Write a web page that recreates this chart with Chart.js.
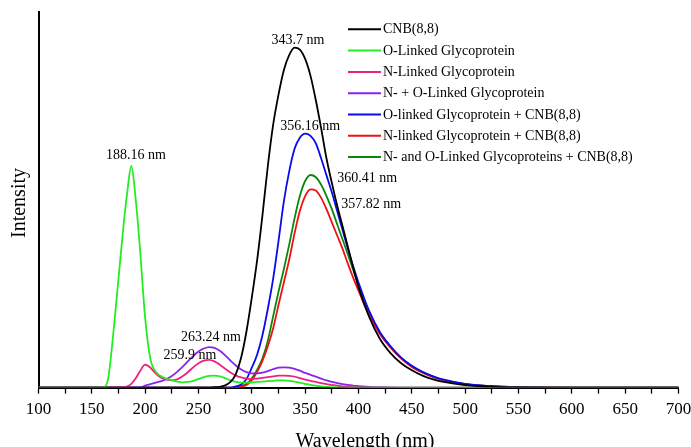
<!DOCTYPE html>
<html>
<head>
<meta charset="utf-8">
<script src="https://cdn.jsdelivr.net/npm/chart.js@4"></script>
<style>
  html,body{margin:0;padding:0;background:#fff;}
  #wrap{width:691px;height:447px;}
</style>
</head>
<body>
<div id="wrap"><canvas id="chart" width="691" height="447"></canvas></div>
<script>
// wavelength grid (nm), shared by all spectra
const wavelengths = [100,150,160,165,170,175,180,183,187,191,195,
  200,205,210,215,220,225,230,235,240,245,250,255,260,265,270,275,280,285,290,295,
  300,305,310,315,320,325,330,335,340,345,350,355,360,365,370,375,380,385,390,395,400,
  410,420,430,440,450,460,470,480,500,520,550,600,700];

// intensity values (arbitrary units, 0..100)
const cnb = [0,0,0,0,0,0,0,0,0,0,0,
  0,0,0,0,0,0,0,0,0,0,0,0,0,0.1,0.2,0.6,1.5,3.6,8,15,
  24,34,46,59,70,78,84.5,88.5,90.5,90,87.5,83,76.5,69,61,54.5,48.5,43,37.5,32,26.8,
  18.8,13,9.2,6.5,4.6,3.2,2.2,1.5,0.65,0.28,0.06,0,0];
const oLinked = [0,0,0,2,14,29,44,51.5,59,50.5,37.5,
  18.5,7.5,4.2,3.0,2.4,2.0,1.6,1.4,1.5,1.8,2.3,2.8,3.1,3.2,3.0,2.5,1.9,1.5,1.3,1.3,
  1.4,1.5,1.6,1.7,1.8,1.9,1.9,1.8,1.6,1.3,1.0,0.7,0.5,0.3,0.2,0.1,0.05,0,0,0,0,
  0,0,0,0,0,0,0,0,0,0,0,0,0];
const nLinked = [0,0,0,0,0,0,0,0.3,1.0,2.4,4.3,
  6.1,5.3,3.7,2.6,2.1,1.9,2.2,3.0,4.1,5.4,6.5,7.2,7.4,7.0,6.1,5.0,4.0,3.2,2.7,2.4,
  2.3,2.4,2.6,2.8,3.0,3.2,3.2,3.1,2.9,2.5,2.1,1.8,1.5,1.2,0.9,0.7,0.5,0.3,0.2,0.1,0.05,
  0,0,0,0,0,0,0,0,0,0,0,0,0];
const noLinked = [0,0,0,0,0,0,0,0,0,0,0,
  0.5,0.9,1.3,1.7,2.3,3.1,4.2,5.5,7.0,8.4,9.6,10.4,10.8,10.6,9.8,8.6,7.2,5.9,4.8,4.1,
  3.8,3.8,4.0,4.4,4.9,5.3,5.4,5.3,5.0,4.5,3.9,3.4,2.9,2.4,1.9,1.5,1.2,0.9,0.7,0.5,0.4,
  0.2,0.1,0.03,0,0,0,0,0,0,0,0,0,0];
const oCnb = [0,0,0,0,0,0,0,0,0,0,0,
  0,0,0,0,0,0,0,0,0,0,0,0,0,0,0,0,0,0.3,0.8,2.3,
  5.3,8.8,14,21,29,39,49.5,57.5,63.5,66.5,67.6,67,65,61,56.5,52,47,42,37,32.3,28,
  20.4,14.8,11,8,5.8,4.2,3,2.1,1.0,0.45,0.12,0,0];
const nCnb = [0,0,0,0,0,0,0,0,0,0,0,
  0,0,0,0,0,0,0,0,0,0,0,0,0,0,0,0,0,0,0.2,0.7,
  2.0,4.2,7.2,11,15.8,22,28,34,41,47,51,52.8,52.5,50.5,47.5,44,40.5,37,33,29.3,25.8,
  19.2,14.3,10.6,7.7,5.5,4.0,2.8,1.95,0.9,0.42,0.1,0,0];
const noCnb = [0,0,0,0,0,0,0,0,0,0,0,
  0,0,0,0,0,0,0,0,0,0,0,0,0,0,0,0,0,0,0.4,1.0,
  2.5,4.8,7.8,12.5,19,25.5,31.5,38,45,51,55,56.6,56,54,51,47.5,43.5,39.5,35.5,31.3,27.3,
  20,14.7,10.9,7.9,5.7,4.1,2.9,2.0,0.95,0.45,0.12,0,0];

const seriesNames = ["CNB(8,8)","O-Linked Glycoprotein","N-Linked Glycoprotein",
  "N- + O-Linked Glycoprotein","O-linked Glycoprotein + CNB(8,8)",
  "N-linked Glycoprotein + CNB(8,8)","N- and O-Linked Glycoproteins + CNB(8,8)"];
const seriesValues = [cnb,oLinked,nLinked,noLinked,oCnb,nCnb,noCnb];
const seriesColors = ["#000000","#22ee22","#f0207f","#8a22f0","#0a0aee","#ee1111","#0b870b"];

// peak labels [text, wavelength, intensity]
const peakLabels = [
  ["343.7 nm",343.3,92.5],
  ["356.16 nm",354.6,69.6],
  ["188.16 nm",191.4,61.8],
  ["360.41 nm",408.2,55.6],
  ["357.82 nm",412,48.8],
  ["263.24 nm",261.7,13.4],
  ["259.9 nm",242,8.5]
];

const serif = "'Liberation Serif','Times New Roman',serif";

const datasets = seriesNames.map((name,i)=>({
  label:name,
  data:wavelengths.map((w,j)=>({x:w,y:seriesValues[i][j]})),
  borderColor:seriesColors[i],
  borderWidth:1.8,
  pointRadius:0,
  fill:false,
  cubicInterpolationMode:"monotone"
}));

// legend, peak labels and axis titles
const extras = {
  id:"extras",
  afterDraw(chart){
    const ctx = chart.ctx, xs = chart.scales.x, ys = chart.scales.y;
    ctx.save();
    ctx.fillStyle = "#000";
    ctx.font = "14px " + serif;
    ctx.textAlign = "center";
    ctx.textBaseline = "middle";
    peakLabels.forEach(([t,x,y])=>{
      ctx.fillText(t, xs.getPixelForValue(x), ys.getPixelForValue(y));
    });
    // legend
    ctx.textAlign = "left";
    seriesNames.forEach((name,i)=>{
      const y = 29.3 + i*21.3;
      ctx.strokeStyle = seriesColors[i];
      ctx.lineWidth = 2;
      ctx.beginPath(); ctx.moveTo(348,y); ctx.lineTo(381,y); ctx.stroke();
      ctx.fillStyle = "#000";
      ctx.fillText(name, 383, y+0.5);
    });
    // axis titles
    ctx.font = "20px " + serif;
    ctx.textAlign = "center";
    ctx.fillText("Wavelength (nm)", 365, 442);
    ctx.translate(19.5, 203);
    ctx.rotate(-Math.PI/2);
    ctx.fillText("Intensity", 0, 0);
    ctx.restore();
  }
};

new Chart(document.getElementById("chart"),{
  type:"line",
  data:{datasets},
  options:{
    responsive:false,
    animation:false,
    layout:{padding:{left:38.5,top:12,right:12.5,bottom:21}},
    plugins:{legend:{display:false},tooltip:{enabled:false}},
    scales:{
      x:{
        type:"linear",min:100,max:700,
        afterFit:s=>{s.paddingLeft=0;s.paddingRight=0;},
        grid:{display:true,drawOnChartArea:false,drawTicks:true,tickLength:6,color:"#000",tickWidth:1.3},
        border:{display:true,color:"#000",width:2},
        ticks:{stepSize:25,autoSkip:false,maxRotation:0,padding:6,color:"#000",
          font:{family:serif,size:17},
          callback:v=>v%50===0?String(v):""}
      },
      y:{
        min:0,max:100,
        afterFit:s=>{s.width=0;},
        grid:{display:false},
        border:{display:true,color:"#000",width:2},
        ticks:{display:false}
      }
    }
  },
  plugins:[extras]
});
</script>
</body>
</html>
